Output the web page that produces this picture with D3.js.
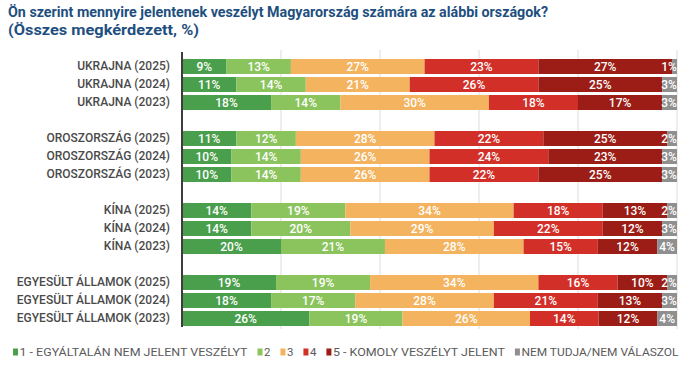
<!DOCTYPE html>
<html><head><meta charset="utf-8">
<script src="https://cdn.jsdelivr.net/npm/d3@7"></script>
<style>body{margin:0;background:#fff}svg{display:block}</style>
</head><body><svg id="c" width="690" height="375"></svg>
<script>
const categories = ["UKRAJNA (2025)","UKRAJNA (2024)","UKRAJNA (2023)","__s1",
  "OROSZORSZÁG (2025)","OROSZORSZÁG (2024)","OROSZORSZÁG (2023)","__s2",
  "KÍNA (2025)","KÍNA (2024)","KÍNA (2023)","__s3",
  "EGYESÜLT ÁLLAMOK (2025)","EGYESÜLT ÁLLAMOK (2024)","EGYESÜLT ÁLLAMOK (2023)"];
const seriesNames = ["1 - EGYÁLTALÁN NEM JELENT VESZÉLYT","2","3","4","5 - KOMOLY VESZÉLYT JELENT","NEM TUDJA/NEM VÁLASZOL"];
const s1 = [9,11,18,null,11,10,10,null,14,14,20,null,19,18,26];
const s2 = [13,14,14,null,12,14,14,null,19,20,21,null,19,17,19];
const s3 = [27,21,30,null,28,26,26,null,34,29,28,null,34,28,26];
const s4 = [23,26,18,null,22,24,22,null,18,22,15,null,16,21,14];
const s5 = [27,25,17,null,25,23,25,null,13,12,12,null,10,13,12];
const s6 = [1,3,3,null,2,3,3,null,2,3,4,null,2,3,4];
const xTicks = [0,0.2,0.4,0.6,0.8,1];
const title1 = "Ön szerint mennyire jelentenek veszélyt Magyarország számára az alábbi országok?";
const title2 = "(Összes megkérdezett, %)";

const colors = ["#4a9f4c","#8bc45d","#f4b35e","#d32f29","#9b1d15","#8f8f8f"];
const allSeries = [s1,s2,s3,s4,s5,s6];
const rows = categories.map((c,i)=>{const o={cat:c}; allSeries.forEach((s,j)=>o["k"+j]=s[i]); return o;}).filter(r=>r.k0!==null);
const keys = seriesNames.map((_,j)=>"k"+j);

const svg = d3.select("#c");
const font = "Roboto, 'Noto Sans', sans-serif";
const x = d3.scaleLinear().domain([0,1]).range([182,677]);
const y = d3.scaleBand().domain(categories).range([57.5,327.5]).paddingInner(1/6).paddingOuter(1/12);

// title
svg.append("text").attr("x",8).attr("y",16.5).attr("font-family",font).attr("font-weight",700)
  .attr("font-size",15.5).attr("fill","#1e4f7f").attr("textLength",540).attr("lengthAdjust","spacingAndGlyphs").text(title1);
svg.append("text").attr("x",8).attr("y",34.5).attr("font-family",font).attr("font-weight",700)
  .attr("font-size",15.5).attr("fill","#1e4f7f").attr("textLength",191).attr("lengthAdjust","spacingAndGlyphs").text(title2);

// gridlines
svg.append("g").selectAll("line").data(xTicks.slice(1)).join("line")
  .attr("x1",d=>x(d)).attr("x2",d=>x(d)).attr("y1",50).attr("y2",329)
  .attr("stroke","#dcdcdc").attr("stroke-width",1);

const stack = d3.stack().keys(keys).offset(d3.stackOffsetExpand);
const stacked = stack(rows);

const g = svg.append("g");
stacked.forEach((layer,j)=>{
  g.append("g").selectAll("rect").data(layer).join("rect")
    .attr("x",d=>x(d[0])).attr("width",d=>x(d[1])-x(d[0]))
    .attr("y",d=>y(d.data.cat)).attr("height",y.bandwidth())
    .attr("fill",colors[j]);
});

// labels
stacked.forEach((layer,j)=>{
  g.append("g").selectAll("text").data(layer).join("text")
    .attr("x",d=>{const cx=(x(d[0])+x(d[1]))/2; return Math.min(cx, 678-9);})
    .attr("y",d=>y(d.data.cat)+y.bandwidth()/2+4.2)
    .attr("text-anchor","middle").attr("font-family",font).attr("font-size",12).attr("font-weight",500)
    .attr("fill","#fff").text(d=>d.data[keys[j]]+"%");
});

// y axis
const yAxis = d3.axisLeft(y).tickSize(0).tickPadding(12).tickFormat(d=>d.startsWith("__")?"":d);
const ya = svg.append("g").attr("transform","translate(182,0)").call(yAxis);
ya.select(".domain").remove();
ya.selectAll("text").attr("font-family",font).attr("font-size",12).attr("font-weight",500).attr("fill","#4a4a4a");
svg.append("line").attr("x1",182).attr("x2",182).attr("y1",52).attr("y2",327).attr("stroke","#3d3d3d").attr("stroke-width",2);

// legend
const legendWidths = [228,null,null,null,172,157];
const lg = svg.append("g").attr("font-family",font).attr("font-size",11.5).attr("fill","#5a5a5a");
let lx = 13;
seriesNames.forEach((n,j)=>{
  lg.append("rect").attr("x",lx).attr("y",348.5).attr("width",5).attr("height",7).attr("fill",colors[j]);
  const t = lg.append("text").attr("x",lx+6.5).attr("y",356).text(n);
  if (legendWidths[j]) t.attr("textLength",legendWidths[j]).attr("lengthAdjust","spacingAndGlyphs");
  const w = legendWidths[j] || t.node().getComputedTextLength();
  lx += 6.5 + w + 10;
});
</script></body></html>
